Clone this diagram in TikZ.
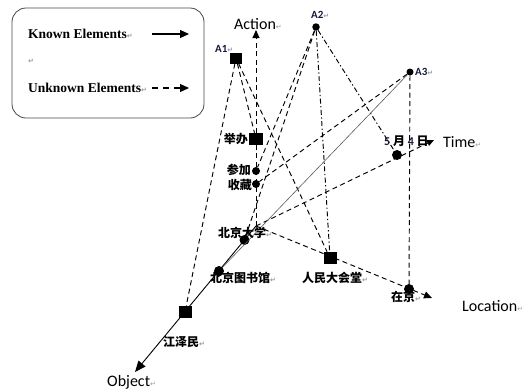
\documentclass[tikz,border=0pt]{standalone}
\usepackage{fontspec}
\setmainfont{Liberation Serif}
\newfontfamily\calfont{Carlito}
\newfontfamily\cjkfont{Noto Sans CJK SC}
\newfontfamily\dvfont{DejaVu Sans}
\usetikzlibrary{arrows.meta}
\definecolor{navy}{RGB}{20,25,60}
\definecolor{rtgrey}{RGB}{150,150,175}
\definecolor{boxgrey}{RGB}{70,70,70}
\newcommand\rt{{\dvfont\fontsize{7}{7}\selectfont\color{rtgrey}↵}}
\begin{document}
\begin{tikzpicture}[x=1pt,y=-1pt,
  sq/.style={rectangle,fill=black,inner sep=0pt,minimum width=13pt,minimum height=12pt},
  dotm/.style={circle,fill=black,inner sep=0pt,minimum size=#1},
  dotm/.default=8pt,
  dsh/.style={dash pattern=on 5pt off 3.5pt,line width=0.95pt},
  dd/.style={dash pattern=on 5pt off 2.5pt on 1.3pt off 2.5pt,line width=0.95pt},
  thinline/.style={line width=0.6pt,black!65},
  axlbl/.style={font=\calfont\fontsize{16}{18}\selectfont,inner sep=0pt,anchor=west},
  cjk/.style={font=\cjkfont\bfseries\fontsize{12}{14}\selectfont,inner sep=0pt},
  albl/.style={font=\calfont\bfseries\fontsize{11}{12}\selectfont,text=navy,inner sep=0pt,anchor=west},
  leg/.style={font=\bfseries\fontsize{13.5}{15}\selectfont,inner sep=0pt,anchor=west},
  tipS/.style={-{Triangle[length=8pt,width=7pt]}},
  tipL/.style={-{Triangle[length=11pt,width=9pt]}}
]
\useasboundingbox (0,0) rectangle (528,389);

% legend
\node (legend) [draw=boxgrey,rounded corners=14pt,line width=0.8pt,minimum width=192pt,minimum height=110pt] at (108,63) {};
\node (known) [leg] at (28,34) {Known Elements\rt};
\node (blank) [leg] at (28,61) {\rt};
\node (unknown) [leg] at (28,88) {Unknown Elements\rt};
\coordinate (k1) at (152,34);
\coordinate (k2) at (189,34);
\coordinate (u1) at (152,88);
\coordinate (u2) at (189,88);
\draw[line width=1.2pt,-{Triangle[length=9pt,width=8pt]}] (k1) -- (k2);
\draw[line width=1.2pt,dash pattern=on 6pt off 5pt,-{Triangle[length=9pt,width=8pt]}] (u1) -- (u2);

% axes
\coordinate (O) at (256,226);
\coordinate (actTip) at (256,30);
\coordinate (timeTip) at (434,140);
\coordinate (locTip) at (432,298);
\coordinate (objTip) at (135,372);

% element markers
\node (jb) [sq,minimum width=14pt] at (256,139) {};
\node (cj) [dotm=8pt] at (256,171) {};
\node (sc) [dotm=8pt] at (256,184) {};
\node (bjdx) [dotm=10pt] at (244.5,240) {};
\node (bjtsg) [dotm=10pt] at (219,271) {};
\node (jzm) [sq] at (185,312) {};
\node (rmdht) [sq] at (330,258) {};
\node (zj) [dotm=10pt] at (409,289) {};
\node (may4) [dotm=10pt] at (397,155) {};

% event points
\node (A1) [sq,minimum width=12pt,minimum height=11pt] at (236,58) {};
\node (A2) [dotm=7.5pt] at (316,27) {};
\node (A3) [dotm=7pt] at (410,72) {};

% axes lines
\draw[dsh,tipS] (O) -- (actTip);
\draw[dsh,-{Triangle[length=7pt,width=6pt]}] (O) -- (timeTip);
\draw[dsh,tipS] (O) -- (locTip);
\draw[line width=0.9pt,tipL] (O) -- (objTip);

% event connectors
\draw[dsh] (A1) -- (jb);
\draw[dsh] (A1) -- (jzm);
\draw[dsh] (A1) -- (rmdht);
\draw[dsh] (A2) -- (cj);
\draw[dsh] (A2) -- (bjdx);
\draw[dd] (A2) -- (rmdht);
\draw[dd] (A2) -- (may4);
\draw[dsh] (A3) -- (sc);
\draw[thinline] (A3) -- (bjtsg);
\draw[dsh] (A3) -- (zj);

% axis labels
\node (lAction) [axlbl] at (234,24) {Action\rt};
\node (lTime) [axlbl] at (443,142) {Time\rt};
\node (lLoc) [axlbl] at (462,306) {Location\rt};
\node (lObj) [axlbl] at (107,382) {Object\rt};

% event labels
\node (lA1) [albl] at (215,49) {A1\rt};
\node (lA2) [albl] at (311,15) {A2\rt};
\node (lA3) [albl] at (415,72) {A3\rt};

% element labels
\node (ljb) [cjk,anchor=east] at (248,139) {举办};
\node (lcj) [cjk,anchor=east] at (251,170) {参加};
\node (lsc) [cjk,anchor=east] at (252,185) {收藏};
\node (lbjdx) [cjk,anchor=west] at (218,233) {北京大学\rt};
\node (lbjtsg) [cjk,anchor=west] at (210,278) {北京图书馆\rt};
\node (lrmdht) [cjk,anchor=west] at (302,278) {人民大会堂\rt};
\node (lzj) [cjk,anchor=west] at (391,297) {在京\rt};
\node (ljzm) [cjk,anchor=west] at (163,342) {江泽民\rt};
\node (lmay4) [cjk,anchor=west] at (384,141) {{\calfont\color{navy}5} 月 {\calfont\color{navy}4} 日};
\end{tikzpicture}
\end{document}
